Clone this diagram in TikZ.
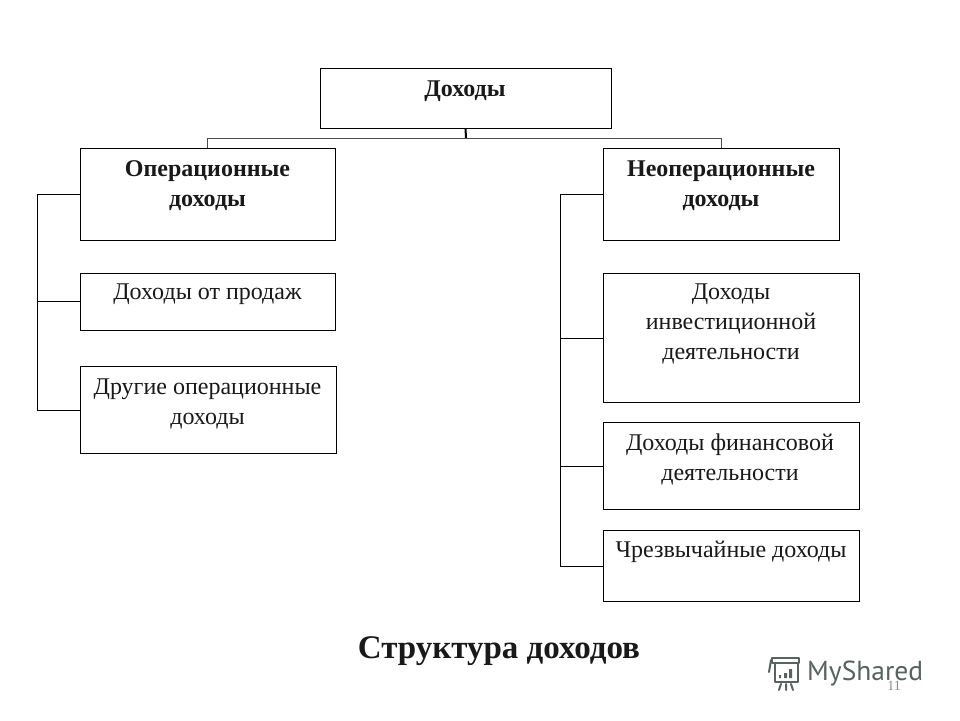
\documentclass[tikz,border=0pt]{standalone}
\usepackage{fontspec}
\setmainfont{Liberation Serif}
\newfontfamily\sansf{PT Sans}
\definecolor{wm}{HTML}{56635E}
\tikzset{
 box/.style={draw=black,line width=1pt,fill=white,inner sep=0pt},
 lbl/.style={align=center,font=\fontsize{24}{30}\selectfont,inner sep=0pt,text=black!90},
 blbl/.style={lbl,font=\fontsize{24}{29.5}\selectfont\bfseries},
 conn/.style={draw=black,line width=1pt},
 icon/.style={draw=wm,line width=2pt,line cap=round,line join=round},
}
\begin{document}
\begin{tikzpicture}[x=1pt,y=1pt]
\useasboundingbox (0,0) rectangle (960pt,-720pt);
\fill[white] (0,0) rectangle (960pt,-720pt);
% watermark
\node[font=\sansf\fontsize{27.5}{32}\selectfont,text=wm,inner sep=0pt,anchor=west] (logo) at (807pt,-674pt) {MyShared};
\draw[icon] (772pt,-658pt) -- (799pt,-658pt) -- (799pt,-663pt) -- (772pt,-663pt) -- cycle;
\draw[icon] (771pt,-660pt) -- (769pt,-672pt);
\draw[icon] (775pt,-663pt) -- (775pt,-682pt) -- (798pt,-682pt) -- (798pt,-663pt);
\fill[wm] (779pt,-678pt) rectangle (781pt,-675pt) (784pt,-678pt) rectangle (787pt,-673pt) (789pt,-678pt) rectangle (792pt,-669pt);
\draw[icon] (781pt,-684pt) -- (779pt,-690pt) (786pt,-684pt) -- (786pt,-690pt) (791pt,-684pt) -- (793pt,-690pt);
% boxes
\node[box,minimum width=291pt,minimum height=60pt] (root) at (465.5pt,-98pt) {};
\node[box,minimum width=255pt,minimum height=92pt] (op) at (207.5pt,-194pt) {};
\node[box,minimum width=236pt,minimum height=92pt] (nop) at (721.5pt,-194pt) {};
\node[box,minimum width=255pt,minimum height=57pt] (sales) at (207.5pt,-301.5pt) {};
\node[box,minimum width=256pt,minimum height=87pt] (other) at (208pt,-410pt) {};
\node[box,minimum width=256pt,minimum height=129pt] (inv) at (731pt,-338pt) {};
\node[box,minimum width=256pt,minimum height=87pt] (fin) at (731pt,-466pt) {};
\node[box,minimum width=256pt,minimum height=71pt] (emer) at (731pt,-566pt) {};
% connectors
\coordinate (bus) at (466pt,-138pt);
\draw[conn,line width=2pt] (root.south) -- (bus);
\draw[conn,draw=black!70] (op.north) -- (op.north |- bus) -- (nop.north |- bus) -- (nop.north);
\coordinate (lb) at (37.5pt,0);
\coordinate (rb) at (560.5pt,0);
\draw[conn] (op.west) -- (lb |- op.west) -- (lb |- other.west) -- (other.west);
\draw[conn] (sales.west) -- (lb |- sales.west);
\draw[conn] (nop.west) -- (rb |- nop.west) -- (rb |- emer.west) -- (emer.west);
\draw[conn] (inv.west) -- (rb |- inv.west);
\draw[conn] (fin.west) -- (rb |- fin.west);
% labels
\node[blbl] (t0) at (465pt,-91pt) {Доходы};
\node[blbl] (t1) at (207.5pt,-185.5pt) {Операционные\\доходы};
\node[blbl] (t2) at (721pt,-185.5pt) {Неоперационные\\доходы};
\node[lbl] (t3) at (207.5pt,-294.5pt) {Доходы от продаж};
\node[lbl] (t4) at (207.5pt,-403.5pt) {Другие операционные\\доходы};
\node[lbl] (t5) at (731pt,-324pt) {Доходы\\инвестиционной\\деятельности};
\node[lbl] (t6) at (730pt,-459.5pt) {Доходы финансовой\\деятельности};
\node[lbl] (t7) at (731pt,-551.5pt) {Чрезвычайные доходы};
\node[font=\fontsize{33}{40}\selectfont\bfseries,inner sep=0pt,text=black!90] (cap) at (499pt,-651pt) {Структура доходов};
\node[font=\fontsize{14}{16}\selectfont,text=black!45,inner sep=0pt] (num) at (894pt,-686pt) {11};
\end{tikzpicture}
\end{document}
